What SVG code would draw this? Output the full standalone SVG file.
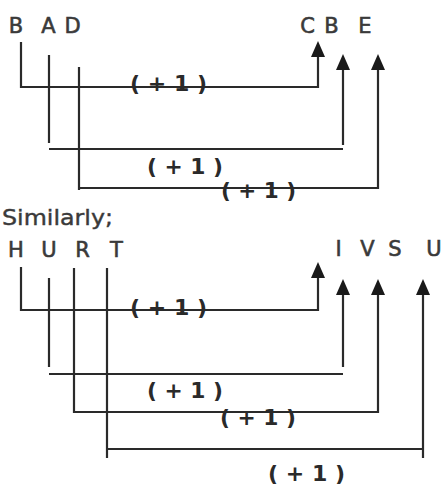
<svg xmlns="http://www.w3.org/2000/svg" width="447" height="486" viewBox="0 0 447 486">
<style>
.l{font-family:"DejaVu Sans","Liberation Sans",sans-serif;font-size:21px;fill:#3a3a3a;stroke:#3a3a3a;stroke-width:0.6;text-anchor:middle}
.s{font-family:"DejaVu Sans","Liberation Sans",sans-serif;font-size:21px;fill:#3a3a3a;stroke:#3a3a3a;stroke-width:0.4}
.p{font-family:"DejaVu Sans","Liberation Sans",sans-serif;font-size:22px;font-weight:bold;fill:#2a2a2a}
.c path{fill:none;stroke:#2a2a2a;stroke-width:2.2}
.c polygon{fill:#1a1a1a}
</style>
<rect width="447" height="486" fill="#ffffff"/>
<g id="top-source">
<text class="l" x="16" y="33">B</text>
<text class="l" x="48.5" y="33">A</text>
<text class="l" x="72.5" y="33">D</text>
</g>
<g id="top-target">
<text class="l" x="307.5" y="33">C</text>
<text class="l" x="331.5" y="33">B</text>
<text class="l" x="365" y="33">E</text>
</g>
<g id="similarly">
<text class="s" x="2" y="225" textLength="111" lengthAdjust="spacingAndGlyphs">Similarly;</text>
</g>
<g id="bottom-source">
<text class="l" x="16" y="257">H</text>
<text class="l" x="49" y="257">U</text>
<text class="l" x="82.5" y="257">R</text>
<text class="l" x="116.5" y="257">T</text>
</g>
<g id="bottom-target">
<text class="l" x="338.5" y="256">I</text>
<text class="l" x="367.5" y="256">V</text>
<text class="l" x="395" y="256">S</text>
<text class="l" x="434" y="256">U</text>
</g>
<g id="connectors" class="c">
<path d="M21,42 V87 H318 V56"/>
<polygon points="318,41 311,57 325,57"/>
<path d="M49,55 V143 M49,149 H343 M343,145 V69"/>
<polygon points="343,54 336,70 350,70"/>
<path d="M79,67 V190 M79,188 H378 V69"/>
<polygon points="378,54 371,70 385,70"/>
<path d="M21,267 V310 H318 V277"/>
<polygon points="318,262 311,278 325,278"/>
<path d="M49,278 V367 M49,374 H343 M343,367 V294"/>
<polygon points="343,279 336,295 350,295"/>
<path d="M74,268 V413 M74,412 H378 V294"/>
<polygon points="378,279 371,295 385,295"/>
<path d="M107,268 V458 M107,449 H423 M423,458 V294"/>
<polygon points="423,279 416,295 430,295"/>
</g>
<g id="labels">
<text class="p" x="130" y="91" textLength="77" lengthAdjust="spacingAndGlyphs">( + 1 )</text>
<text class="p" x="147" y="174" textLength="76" lengthAdjust="spacingAndGlyphs">( + 1 )</text>
<text class="p" x="221" y="198" textLength="75" lengthAdjust="spacingAndGlyphs">( + 1 )</text>
<text class="p" x="130" y="315" textLength="77" lengthAdjust="spacingAndGlyphs">( + 1 )</text>
<text class="p" x="147" y="398" textLength="76" lengthAdjust="spacingAndGlyphs">( + 1 )</text>
<text class="p" x="220" y="425" textLength="76" lengthAdjust="spacingAndGlyphs">( + 1 )</text>
<text class="p" x="268" y="481" textLength="77" lengthAdjust="spacingAndGlyphs">( + 1 )</text>
</g>
</svg>
